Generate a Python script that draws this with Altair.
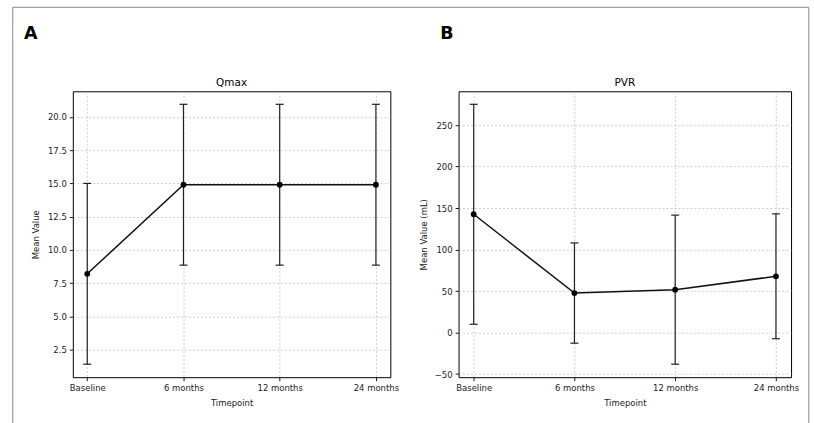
import altair as alt
import pandas as pd

timepoints = ["Baseline", "6 months", "12 months", "24 months"]
qmax_mean = [8.2, 14.9, 14.9, 14.9]
qmax_sd = [6.8, 6.05, 6.05, 6.05]
pvr_mean = [142.5, 47.6, 51.7, 67.8]
pvr_sd = [132.5, 60.4, 89.8, 75.2]

qmax_ticks = [2.5, 5.0, 7.5, 10.0, 12.5, 15.0, 17.5, 20.0]
pvr_ticks = [-50, 0, 50, 100, 150, 200, 250]

FONT = "DejaVu Sans"
W_A, W_B, H = 318.3, 333.3, 286.6
SPACING = 67.7


def make_df(means, sds):
    return pd.DataFrame({
        "timepoint": timepoints,
        "mean": means,
        "low": [m - s for m, s in zip(means, sds)],
        "high": [m + s for m, s in zip(means, sds)],
    })


def mpl_domain(df):
    lo, hi = df["low"].min(), df["high"].max()
    m = (hi - lo) * 0.05
    return [lo - m, hi + m]


def panel(df, title, ytitle, yticks, yfmt, width, letter, letter_x, frame=False, title_pad=5):
    xenc = alt.X("timepoint:N", sort=timepoints,
                 scale=alt.Scale(type="point", padding=0.15),
                 axis=alt.Axis(title="Timepoint", labelAngle=0, grid=True,
                               tickSize=3.5, labelPadding=2.5, titlePadding=7))
    yscale = alt.Scale(domain=mpl_domain(df), nice=False, zero=False)
    yaxis = alt.Axis(title=ytitle, values=yticks, format=yfmt, grid=True,
                     tickSize=3.5, labelPadding=3, titlePadding=title_pad)
    base = alt.Chart(df)
    err = base.mark_rule(color="#222", strokeWidth=1.2).encode(
        x=xenc, y=alt.Y("low:Q", scale=yscale, axis=yaxis), y2="high:Q")
    cap_lo = base.mark_tick(orient="horizontal", size=8, thickness=1.2, color="#222", opacity=1).encode(
        x=xenc, y=alt.Y("low:Q", scale=yscale, axis=yaxis))
    cap_hi = base.mark_tick(orient="horizontal", size=8, thickness=1.2, color="#222", opacity=1).encode(
        x=xenc, y=alt.Y("high:Q", scale=yscale, axis=yaxis))
    line = base.mark_line(color="#111", strokeWidth=1.5).encode(
        x=xenc, y=alt.Y("mean:Q", scale=yscale, axis=yaxis))
    pts = base.mark_point(filled=True, size=34, color="black", opacity=1).encode(
        x=xenc, y=alt.Y("mean:Q", scale=yscale, axis=yaxis))
    lab = alt.Chart(pd.DataFrame({"label": [letter]})).mark_text(
        font=FONT, fontSize=17.5, fontWeight="bold", align="left", baseline="alphabetic", color="black"
    ).encode(text="label:N", x=alt.value(letter_x), y=alt.value(-52.5))
    ttl = alt.Chart(pd.DataFrame({"label": [title]})).mark_text(
        font=FONT, fontSize=10.5, align="center", baseline="alphabetic", color="black"
    ).encode(text="label:N", x=alt.value(width / 2), y=alt.value(-5.7))
    layers = [err, cap_lo, cap_hi, line, pts, lab, ttl]
    if frame:
        one = pd.DataFrame({"k": [0]})
        fl, ft, fr, fb = -60.2, -84.2, 737.8, 333.3
        left = alt.Chart(one).mark_rule(color="#8a8a8a", strokeWidth=1).encode(
            x=alt.value(fl), y=alt.value(ft), y2=alt.value(fb))
        top = alt.Chart(one).mark_rule(color="#8a8a8a", strokeWidth=1).encode(
            x=alt.value(fl), x2=alt.value(fr), y=alt.value(ft))
        right = alt.Chart(one).mark_rule(color="#8a8a8a", strokeWidth=1).encode(
            x=alt.value(fr), y=alt.value(ft), y2=alt.value(fb))
        layers = [left, top, right] + layers
    return alt.layer(*layers).properties(width=width, height=H)


qdf = make_df(qmax_mean, qmax_sd)
pdf = make_df(pvr_mean, pvr_sd)

pa = panel(qdf, "Qmax", "Mean Value", qmax_ticks, ".1f", W_A, "A", -49.0, frame=True, title_pad=7)
pb = panel(pdf, "PVR", "Mean Value (mL)", pvr_ticks, "d", W_B, "B", -18.4, frame=False, title_pad=5.5)

chart = alt.hconcat(pa, pb, spacing=SPACING, bounds="flush").properties(
    padding={"left": 11, "top": 5, "right": 4, "bottom": 0},
    background="white",
).configure_view(stroke="black", strokeWidth=1).configure_axis(
    labelFont=FONT, titleFont=FONT, labelFontSize=8.5, titleFontSize=8.5,
    titleFontWeight="normal", labelColor="#222", titleColor="#222",
    tickColor="black", tickWidth=0.9, domain=False,
    gridColor="#b8b8b8", gridDash=[2, 2], gridWidth=0.7,
)

chart.save("out.html", embed_options={"renderer": "svg", "actions": False})
